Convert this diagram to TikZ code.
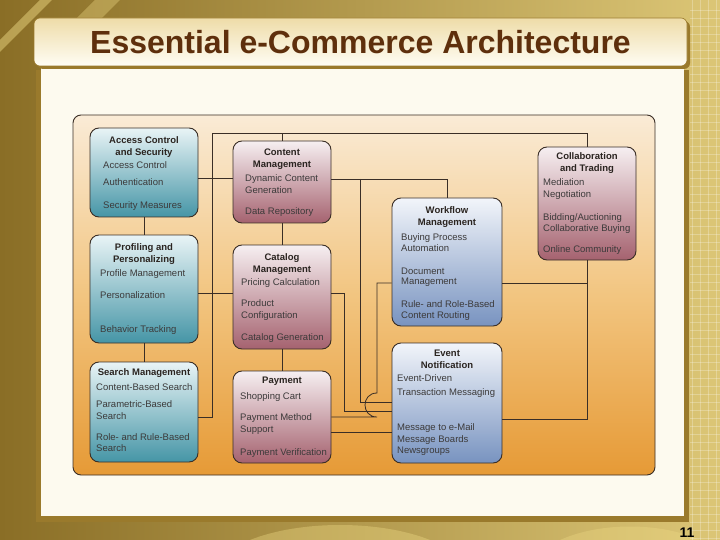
\documentclass[tikz,border=0pt]{standalone}
\usepackage{fontspec}
\setmainfont{Liberation Sans}
\usepackage{xcolor}
\usepackage{tikz}
\definecolor{titlebrown}{HTML}{5E2F0C}
\definecolor{slidedark}{HTML}{8A6E26}
\definecolor{slidelight}{HTML}{DCC676}
\definecolor{slidestreak}{HTML}{F4E08A}
\definecolor{paneledge}{HTML}{9A7A2C}
\definecolor{panelcream}{HTML}{FDFAEF}
\definecolor{bartop}{HTML}{EEDCA8}
\definecolor{barbottom}{HTML}{FFFDF4}
\definecolor{orangetop}{HTML}{FAEBD6}
\definecolor{orangemid}{HTML}{F2C580}
\definecolor{orangebot}{HTML}{E69A36}
\definecolor{boxline}{HTML}{3A2E26}
\definecolor{tealtop}{HTML}{E9F4F6}
\definecolor{tealbot}{HTML}{4595A6}
\definecolor{pinktop}{HTML}{F6EFF1}
\definecolor{pinkbot}{HTML}{A5626F}
\definecolor{bluetop}{HTML}{F2F5FA}
\definecolor{bluebot}{HTML}{7893C0}
\definecolor{headtext}{HTML}{2A2420}
\definecolor{itemtext}{HTML}{3C3A3A}

\tikzset{
  modbox/.style={draw=boxline,line width=0.9pt,rounded corners=9pt,inner sep=0pt},
  tealbox/.style={modbox,top color=tealtop,bottom color=tealbot},
  pinkbox/.style={modbox,top color=pinktop,bottom color=pinkbot},
  bluebox/.style={modbox,top color=bluetop,bottom color=bluebot},
  head/.style={anchor=north,align=center,inner sep=0pt,text=headtext,
               font=\fontsize{9.5}{12}\selectfont\bfseries},
  items/.style={anchor=north west,align=left,inner sep=0pt,text=itemtext,
                font=\fontsize{9.5}{11.5}\selectfont},
  wire/.style={draw=boxline,line width=0.8pt}
}

\begin{document}
\begin{tikzpicture}[x=1pt,y=-1pt]
        \useasboundingbox (0,0) rectangle (720,540);
        \fill[left color=slidedark,right color=slidelight] (0,0) rectangle (720,540);
        \fill[slidestreak,opacity=0.45] (0,40) -- (40,0) -- (52,0) -- (0,52) -- cycle;
        \fill[slidestreak,opacity=0.35] (95,0) -- (120,0) -- (60,60) -- (35,60) -- cycle;
        \fill[slidestreak,opacity=0.35] (250,540) .. controls (300,520) and (380,520) .. (430,540) -- cycle;
        \fill[slidestreak,opacity=0.3] (560,540) .. controls (600,522) and (660,522) .. (700,540) -- cycle;
        \foreach \gx in {692,700,...,720}
          \draw[white,opacity=0.25,line width=0.4pt] (\gx,0) -- (\gx,540);
        \foreach \gy in {10,18,...,540}
          \draw[white,opacity=0.25,line width=0.4pt] (690,\gy) -- (720,\gy);

        \fill[paneledge] (36,70) rectangle (689,522);
        \fill[panelcream] (41,66) rectangle (684,516);
        \fill[paneledge] (37,21) [rounded corners=6pt] rectangle (690,69);
        \node[draw=paneledge,line width=0.6pt,rounded corners=6pt,
              top color=bartop,bottom color=barbottom,
              minimum width=653,minimum height=48,inner sep=0pt,
              text=titlebrown,font=\fontsize{32}{36}\selectfont\bfseries]
              (title) at (360.5,42) {Essential e-Commerce Architecture};

        \node[draw=boxline,line width=0.9pt,rounded corners=8pt,
              top color=orangetop,bottom color=orangebot,middle color=orangemid,
              minimum width=582,minimum height=360] (panel) at (364,295) {};

        \node[tealbox,minimum width=108,minimum height=89] (acc) at (144,172.5) {};
        \node[tealbox,minimum width=108,minimum height=108] (prof) at (144,289) {};
        \node[tealbox,minimum width=108,minimum height=100] (srch) at (144,412) {};
        \node[pinkbox,minimum width=98,minimum height=82] (cont) at (282,182) {};
        \node[pinkbox,minimum width=98,minimum height=104] (cat) at (282,297) {};
        \node[pinkbox,minimum width=98,minimum height=92] (pay) at (282,417) {};
        \node[bluebox,minimum width=110,minimum height=128] (wf) at (447,262) {};
        \node[bluebox,minimum width=110,minimum height=120] (evt) at (447,403) {};
        \node[pinkbox,minimum width=98,minimum height=113] (colab) at (587,203.5) {};

        \coordinate (busL) at (212,133);
        \coordinate (cbr) at (360,179);
        \coordinate (jlo) at (377,417);
        \coordinate (jhi) at (377,393);

        \draw[wire] ([yshift=-5pt]srch.east) -| (busL) -| (colab.north);
        \draw[wire] (cont.north) -- (cont.north |- busL);
        \draw[wire] ([yshift=-5.5pt]acc.east) -- ([yshift=4pt]cont.west);
        \draw[wire] ([yshift=-4pt]prof.east) -- ([yshift=4pt]cat.west);
        \draw[wire] (acc) -- (prof);
        \draw[wire] (prof) -- (srch);
        \draw[wire] (cont) -- (cat);
        \draw[wire] (cat) -- (pay);
        \draw[wire] ([yshift=3pt]cont.east) -| (wf.north);
        \draw[wire] (cbr) |- ([yshift=1pt]evt.west);
        \draw[wire] ([yshift=4pt]cat.east) -- ++(13,0) |- ([yshift=-8pt]evt.west);
        \draw[wire] (pay.east) -- (jlo) .. controls (361,417) and (361,393) .. (jhi)
              |- ([yshift=-21pt]wf.west);
        \draw[wire] ([yshift=-15pt]pay.east) -- ([yshift=-29pt]evt.west);
        \draw[wire] ([yshift=-16pt]evt.east) -| (colab.south);
        \draw[wire] ([yshift=-21pt]wf.east) -| (colab.south);

        \node[head] (acchead) at (144,136) {Access Control\\and Security};
        \node[items] (accitems) at (103,161.5)
              {Access Control\\[5.5pt]Authentication\\[11.5pt]Security Measures};
        \node[head] (profhead) at (144,243) {Profiling and\\Personalizing};
        \node[items] (profitems) at (100,269.5)
              {Profile Management\\[10.5pt]Personalization\\[22.5pt]Behavior Tracking};
        \node[head] (srchhead) at (144,368) {Search Management};
        \node[items] (srchitems) at (96,383.5)
              {Content-Based Search\\[5.5pt]Parametric-Based\\Search\\[9.5pt]Role- and Rule-Based\\Search};
        \node[head] (conthead) at (282,149) {Content\\Management};
        \node[items] (contitems) at (245,174.5)
              {Dynamic Content\\Generation\\[9.5pt]Data Repository};
        \node[head] (cathead) at (282,253) {Catalog\\Management};
        \node[items] (catitems) at (241,278.5)
              {Pricing Calculation\\[9.5pt]Product\\Configuration\\[10.5pt]Catalog Generation};
        \node[head] (payhead) at (282,377) {Payment};
        \node[items] (payitems) at (240,392.5)
              {Shopping Cart\\[9.5pt]Payment Method\\Support\\[11.5pt]Payment Verification};
        \node[head] (wfhead) at (447,206) {Workflow\\Management};
        \node[items] (wfitems) at (401,233.5)
              {Buying Process\\[-1pt]Automation\\[11.5pt]Document\\[-1pt]Management\\[11.5pt]Rule- and Role-Based\\[-1pt]Content Routing};
        \node[head] (evthead) at (447,350) {Event\\Notification};
        \node[items] (evtitems) at (397,374.5)
              {Event-Driven\\[2.5pt]Transaction Messaging\\[23.5pt]Message to e-Mail\\Message Boards\\Newsgroups};
        \node[head] (colabhead) at (587,152) {Collaboration\\and Trading};
        \node[items] (colabitems) at (543,178.5)
              {Mediation\\Negotiation\\[11.5pt]Bidding/Auctioning\\Collaborative Buying\\[9.5pt]Online Community};

        \node[font=\fontsize{14}{16}\selectfont\bfseries] (pagenum) at (687,533) {11};
      \end{tikzpicture}
\end{document}
